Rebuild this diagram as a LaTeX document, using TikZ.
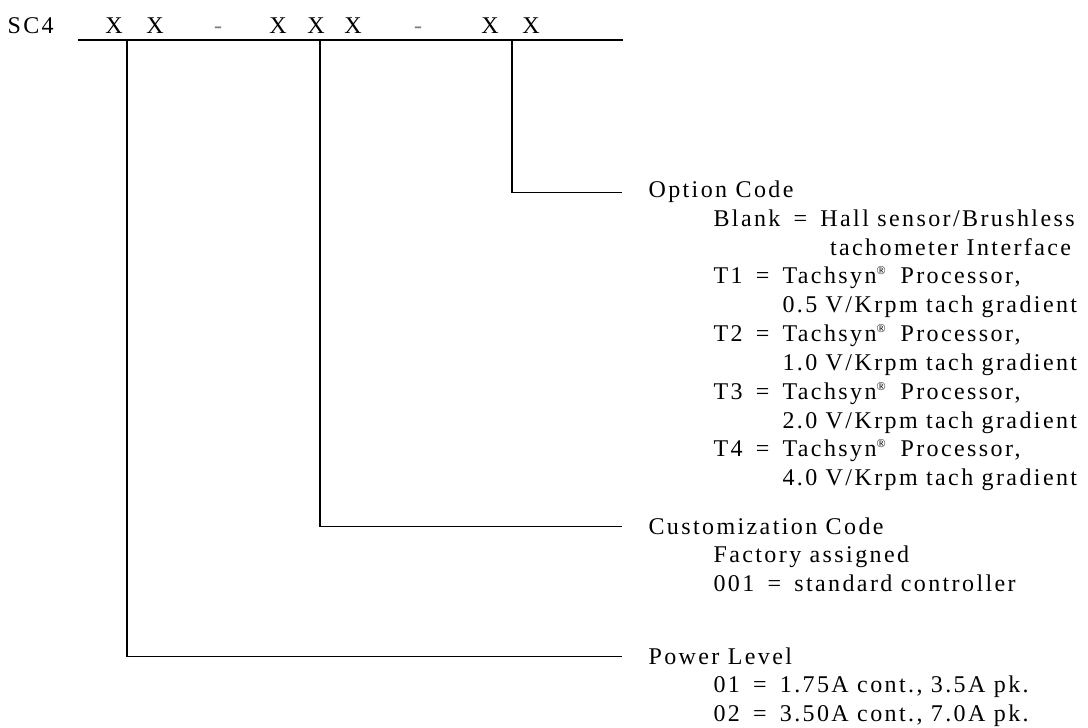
\documentclass[tikz,border=0pt]{standalone}
\usepackage{fontspec}
\setmainfont{Liberation Serif}[LetterSpace=10]
\usepackage{tikz}
\usetikzlibrary{positioning}
\newcommand{\eqsep}{\hspace{0.55em}=\hspace{0.55em}}
\newcommand{\tsyn}{Tachsyn\textsuperscript{\fontsize{12}{12}\selectfont\textregistered}\hspace{0.6em}Processor,}
\begin{document}
\begin{tikzpicture}[x=1pt,y=-1pt,line width=1.1pt,
  txt/.style={anchor=base west,inner sep=0pt,align=left,
              font=\fontsize{24}{28.8}\selectfont},
  head/.style={txt},
  digit/.style={txt,anchor=base},
  lead/.style={draw=black}]
  \useasboundingbox (0,0) rectangle (1088,728);
  %% part number line
  \node[txt] (sc) at (7,33) {SC4};
  \node[digit] (x1) at (114,33) {X};
  \node[digit] (x2) at (155,33) {X};
  \node[digit,gray] (d1) at (218,33) {-};
  \node[digit] (x3) at (278,33) {X};
  \node[digit] (x4) at (316,33) {X};
  \node[digit] (x5) at (353,33) {X};
  \node[digit,gray] (d2) at (418,33) {-};
  \node[digit] (x6) at (490,33) {X};
  \node[digit] (x7) at (531,33) {X};
  \coordinate (lineL) at (78,40);
  \coordinate (lineR) at (623,40);
  \draw (lineL) -- (lineR);
  \coordinate (tapPwr) at (127,40);
  \coordinate (tapCust) at (320,40);
  \coordinate (tapOpt) at (512,40);
  %% option code (two-line nodes sit on their last baseline)
  \node[head] (opt) at (648,197) {Option Code};
  \node[txt] (blank) at (713,255)
    {Blank\eqsep Hall sensor/Brushless\\\hphantom{Blank\eqsep}\hspace{0.4em}tachometer Interface};
  \node[txt] (t1) at (713,312) {T1\eqsep\tsyn\\\hphantom{T1\eqsep}0.5 V/Krpm tach gradient};
  \node[txt] (t2) at (713,370) {T2\eqsep\tsyn\\\hphantom{T2\eqsep}1.0 V/Krpm tach gradient};
  \node[txt] (t3) at (713,428) {T3\eqsep\tsyn\\\hphantom{T3\eqsep}2.0 V/Krpm tach gradient};
  \node[txt] (t4) at (713,485) {T4\eqsep\tsyn\\\hphantom{T4\eqsep}4.0 V/Krpm tach gradient};
  %% customization code
  \node[head] (cust) at (648,534) {Customization Code};
  \node[txt] (fact) at (713,591) {Factory assigned\\001\eqsep standard controller};
  %% power level
  \node[head] (pwr) at (648,664) {Power Level};
  \node[txt] (amps) at (713,721) {01\eqsep 1.75A cont., 3.5A pk.\\02\eqsep 3.50A cont., 7.0A pk.};
  %% leaders
  \draw[lead] (tapOpt) |- ([xshift=-26pt,yshift=-1pt]opt.west);
  \draw[lead] (tapCust) |- ([xshift=-26pt,yshift=-1pt]cust.west);
  \draw[lead] (tapPwr) |- ([xshift=-26pt,yshift=-1pt]pwr.west);
\end{tikzpicture}
\end{document}
